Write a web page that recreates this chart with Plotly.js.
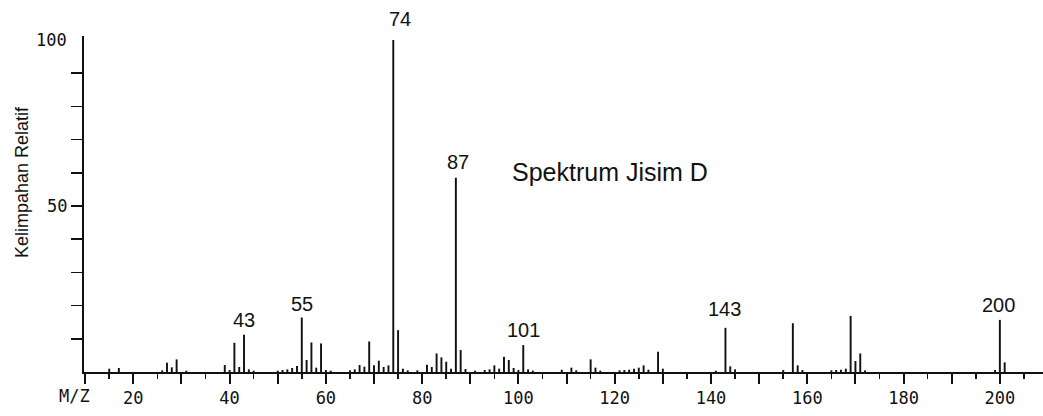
<!DOCTYPE html>
<html>
<head>
<meta charset="utf-8">
<script src="https://cdn.plot.ly/plotly-3.0.1.min.js"></script>
<style>
  html, body { margin: 0; padding: 0; background: #fff; }
  #chart { width: 1043px; height: 416px; }
</style>
</head>
<body>
<div id="chart"></div>
<script>
// Mass spectrum: m/z of each fragment and its relative abundance (%)
const mz = [15, 17, 26, 27, 28, 29, 31, 39, 40, 41, 42, 43, 44, 45,
  50, 51, 52, 53, 54, 55, 56, 57, 58, 59, 60, 61, 65, 66, 67, 68, 69, 70,
  71, 72, 73, 74, 75, 76, 77, 79, 81, 82, 83, 84, 85, 86, 87, 88, 89, 91,
  93, 94, 95, 96, 97, 98, 99, 100, 101, 102, 103, 109, 111, 112, 115, 116,
  117, 121, 122, 123, 124, 125, 126, 127, 129, 130, 141, 143, 144, 145,
  155, 157, 158, 159, 165, 166, 167, 168, 169, 170, 171, 172, 199, 200, 201];
const abundance = [1.0, 1.2, 0.5, 2.8, 1.4, 3.8, 0.4, 2.1, 0.6, 8.8, 1.5, 11.2, 0.8, 0.4,
  0.4, 0.6, 0.8, 1.2, 1.8, 16.4, 3.6, 8.9, 1.3, 8.6, 0.6, 0.4, 0.5, 0.8, 2.1, 1.6, 9.2, 2.0,
  3.4, 1.5, 2.0, 100, 12.6, 1.0, 0.5, 0.5, 2.2, 1.5, 5.6, 4.4, 3.1, 1.0, 58.5, 6.6, 0.9, 0.4,
  0.6, 0.8, 2.0, 1.0, 4.6, 3.6, 1.2, 0.6, 8.1, 0.8, 0.4, 0.7, 1.3, 0.5, 3.8, 1.3,
  0.4, 0.5, 0.6, 0.7, 1.0, 1.3, 2.0, 0.7, 6.1, 1.0, 0.4, 13.3, 1.7, 0.8,
  0.6, 14.7, 2.0, 0.6, 0.5, 0.6, 0.7, 1.0, 16.9, 3.3, 5.6, 0.5, 0.6, 15.7, 2.9];

// Peaks that carry their m/z as a label
const labelledPeaks = [43, 55, 74, 87, 101, 143, 200];

// Axis tick values and labels
const xTickVals = [10, 20, 30, 40, 50, 60, 70, 80, 90, 100, 110, 120, 130, 140, 150, 160, 170, 180, 190, 200];
const xTickText = ['', '20', '', '40', '', '60', '', '80', '', '100', '', '120', '', '140', '', '160', '', '180', '', '200'];
const yTickVals = [10, 20, 30, 40, 50, 60, 70, 80, 90];
const yTickText = ['', '', '', '', '50', '', '', '', ''];

const title = 'Spektrum Jisim D';
const yTitle = 'Kelimpahan Relatif';
const xName = 'M/Z';

// label offsets in pixels relative to the top of each labelled peak
const labelShift = {
  43: [0, 15], 55: [0, 14], 74: [7, 21], 87: [2, 16],
  101: [0, 15], 143: [-1, 19], 200: [-1, 15]
};

const ink = '#111';
const plotterFont = { family: 'DejaVu Sans Mono', size: 17, color: ink };
const textFont = { family: 'Liberation Sans, Arial, sans-serif', color: ink };

const peaks = {
  type: 'bar',
  x: mz,
  y: abundance,
  width: 0.4,
  marker: { color: ink, line: { width: 0 } },
  hoverinfo: 'x+y'
};

const annotations = labelledPeaks.map(m => ({
  x: m,
  y: abundance[mz.indexOf(m)],
  xref: 'x', yref: 'y',
  text: String(m),
  showarrow: false,
  xanchor: 'center', yanchor: 'middle',
  xshift: labelShift[m][0],
  yshift: labelShift[m][1],
  font: Object.assign({ size: 20 }, textFont)
}));

annotations.push(
  {
    text: title, showarrow: false,
    xref: 'paper', yref: 'paper',
    x: (610 - 84) / 959, y: (372 - 172) / 336,
    xanchor: 'center', yanchor: 'middle',
    font: Object.assign({ size: 25 }, textFont)
  },
  {
    text: yTitle, showarrow: false, textangle: -90,
    xref: 'paper', yref: 'paper',
    x: (22 - 84) / 959, y: (372 - 182) / 336,
    xanchor: 'center', yanchor: 'middle',
    font: Object.assign({ size: 18 }, textFont)
  },
  {
    text: '100', showarrow: false,
    xref: 'paper', yref: 'y',
    x: 0, y: 100, xanchor: 'right', yanchor: 'middle',
    xshift: -15,
    font: plotterFont
  },
  {
    text: xName, showarrow: false,
    xref: 'x', yref: 'paper',
    x: 10, y: 0, xanchor: 'right', yanchor: 'top',
    xshift: 7, yshift: -12,
    font: plotterFont
  }
);

const layout = {
  width: 1043,
  height: 416,
  margin: { l: 84, r: 0, t: 36, b: 44, pad: 0 },
  paper_bgcolor: '#fff',
  plot_bgcolor: '#fff',
  showlegend: false,
  xaxis: {
    range: [9.76, 208.96],
    showgrid: false, zeroline: false,
    showline: true, linecolor: ink, linewidth: 2,
    tickmode: 'array', tickvals: xTickVals, ticktext: xTickText,
    ticks: 'outside', ticklen: 10, tickwidth: 2, tickcolor: ink,
    tickfont: plotterFont,
    minor: { tickmode: 'linear', tick0: 0, dtick: 5, ticks: 'outside', ticklen: 5, tickwidth: 1.5, tickcolor: ink, showgrid: false }
  },
  yaxis: {
    range: [0, 101.2],
    showgrid: false, zeroline: false,
    showline: true, linecolor: ink, linewidth: 2,
    tickmode: 'array', tickvals: yTickVals, ticktext: yTickText,
    ticks: 'outside', ticklen: 11, tickwidth: 1.5, tickcolor: ink,
    tickfont: plotterFont
  },
  annotations: annotations
};

Plotly.newPlot('chart', [peaks], layout, { displayModeBar: false, staticPlot: true });
</script>
</body>
</html>
